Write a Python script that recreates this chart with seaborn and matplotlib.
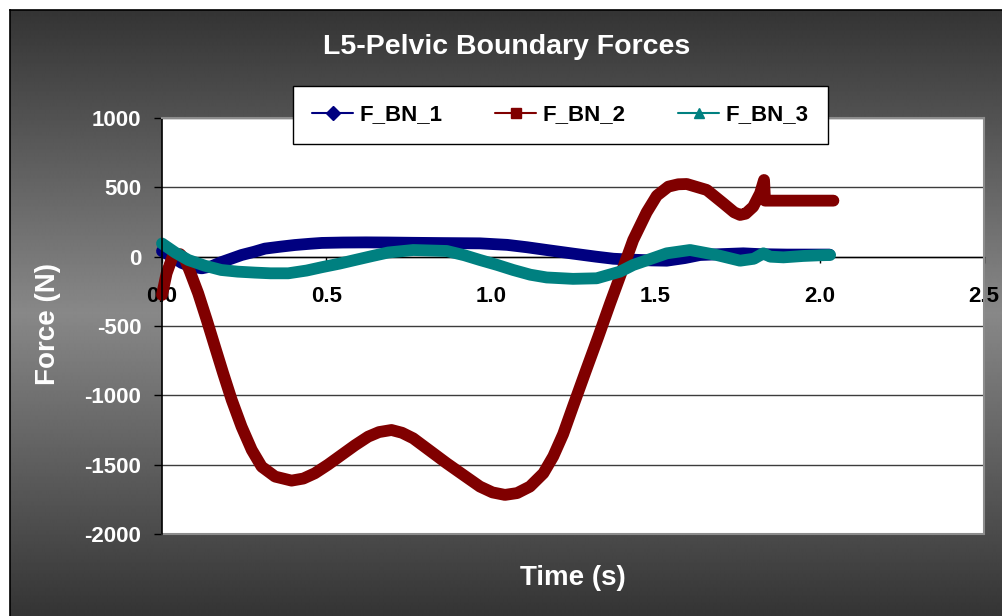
import numpy as np
import pandas as pd
import seaborn as sns
import matplotlib
matplotlib.use("Agg")
import matplotlib.pyplot as plt
from matplotlib.lines import Line2D

# ---------------- data ----------------
t_bn1 = [0.0, 0.03, 0.06, 0.09, 0.121, 0.15, 0.18, 0.21, 0.242, 0.28, 0.313, 0.36,
         0.404, 0.45, 0.486, 0.55, 0.62, 0.688, 0.76, 0.85, 0.967, 1.05, 1.11, 1.17,
         1.25, 1.32, 1.373, 1.433, 1.49, 1.535, 1.59, 1.636, 1.7, 1.768, 1.82, 1.9,
         1.96, 2.03]
f_bn1 = [40, 0, -45, -72, -84, -70, -40, -15, 12, 35, 58, 72,
         84, 93, 99, 102, 103, 102, 100, 98, 96, 85, 68, 48,
         22, 0, -15, -22, -27, -29, -10, 12, 18, 24, 18, 15,
         15, 15]

t_bn2 = [0.0, 0.014, 0.034, 0.055, 0.07, 0.085, 0.11, 0.136, 0.161, 0.186, 0.212,
         0.242, 0.273, 0.303, 0.344, 0.394, 0.43, 0.465, 0.505, 0.546, 0.587, 0.627,
         0.66, 0.698, 0.73, 0.764, 0.815, 0.866, 0.92, 0.967, 1.005, 1.043, 1.08,
         1.119, 1.16, 1.19, 1.22, 1.25, 1.29, 1.327, 1.363, 1.398, 1.433, 1.474,
         1.505, 1.54, 1.57, 1.596, 1.657, 1.707, 1.74, 1.758, 1.775, 1.798, 1.819,
         1.831, 1.834, 2.042]
f_bn2 = [-276, -120, 12, 18, -20, -108, -264, -456, -649, -841, -1033,
         -1226, -1394, -1514, -1586, -1615, -1600, -1562, -1500, -1430, -1360, -1298,
         -1265, -1250, -1270, -1310, -1400, -1490, -1580, -1658, -1700, -1718, -1705,
         -1658, -1562, -1440, -1280, -1080, -817, -577, -336, -110, 120, 320,
         440, 505, 522, 524, 481, 385, 320, 301, 310, 360, 457,
         553, 404, 404]

t_bn3 = [0.0, 0.04, 0.08, 0.13, 0.18, 0.23, 0.283, 0.33, 0.384, 0.44, 0.486, 0.54,
         0.587, 0.64, 0.688, 0.764, 0.866, 0.92, 0.967, 1.02, 1.068, 1.12, 1.17,
         1.25, 1.322, 1.393, 1.433, 1.494, 1.535, 1.606, 1.687, 1.758, 1.8, 1.829,
         1.85, 1.89, 1.95, 2.0, 2.032]
f_bn3 = [95, 30, -24, -65, -96, -108, -115, -120, -120, -100, -76, -50,
         -24, 5, 30, 48, 41, 10, -24, -60, -96, -130, -150,
         -160, -156, -108, -60, -10, 24, 48, 12, -29, -15, 24,
         0, -5, 5, 10, 12]

series_names = ["F_BN_1", "F_BN_2", "F_BN_3"]
series_colors = ["#000080", "#800000", "#008080"]
series_markers = ["D", "s", "^"]

x_ticks = [0.0, 0.5, 1.0, 1.5, 2.0, 2.5]
y_ticks = [-2000, -1500, -1000, -500, 0, 500, 1000]

title_text = "L5-Pelvic Boundary Forces"
x_label = "Time (s)"
y_label = "Force (N)"

df = pd.concat([
    pd.DataFrame({"Time": t_bn1, "Force": f_bn1, "Series": series_names[0]}),
    pd.DataFrame({"Time": t_bn2, "Force": f_bn2, "Series": series_names[1]}),
    pd.DataFrame({"Time": t_bn3, "Force": f_bn3, "Series": series_names[2]}),
], ignore_index=True)

# ---------------- style ----------------
sns.set_theme(style="white")
plt.rcParams["font.family"] = ["Liberation Sans", "DejaVu Sans"]
plt.rcParams["font.weight"] = "bold"

W, H = 1003, 616
fig = plt.figure(figsize=(W / 100, H / 100), dpi=100, facecolor="white")

# gradient background panel
bg = fig.add_axes([10 / W, 0, (W - 10) / W, (H - 10) / H])
bg.set_zorder(0)
ypix = np.arange(10, H)
mid = (10 + H) / 2
half = (H - 10) / 2
vals = 52 + 84 * (1 - np.abs(ypix - mid) / half)
grad = np.repeat(vals[:, None], 4, axis=1)
bg.imshow(grad, cmap="gray", vmin=0, vmax=255, aspect="auto",
          extent=[0, 1, 0, 1], interpolation="bilinear")
bg.set_xlim(0, 1)
bg.set_ylim(0, 1)
bg.set_xticks([])
bg.set_yticks([])
for s in ["right", "bottom"]:
    bg.spines[s].set_visible(False)
for s in ["left", "top"]:
    bg.spines[s].set_color("black")
    bg.spines[s].set_linewidth(1.2)

# main plot area
ax = fig.add_axes([162 / W, 1 - 534 / H, 822 / W, 416 / H])
ax.set_zorder(1)
ax.set_facecolor("white")

sns.lineplot(data=df, x="Time", y="Force", hue="Series", hue_order=series_names,
             palette=dict(zip(series_names, series_colors)), estimator=None,
             sort=False, linewidth=8.5, legend=False, ax=ax)
for ln in ax.lines:
    ln.set_solid_capstyle("round")
    ln.set_solid_joinstyle("round")
    ln.set_clip_on(False)

ax.set_xlim(0, 2.5)
ax.set_ylim(-2000, 1000)
ax.set_xticks(x_ticks)
ax.set_xticklabels([f"{v:.1f}" for v in x_ticks])
ax.set_yticks(y_ticks)
ax.set_yticklabels([str(v) for v in y_ticks])
ax.set_xlabel("")
ax.set_ylabel("")

ax.set_axisbelow(True)
ax.yaxis.grid(True, color="#3c3c3c", linewidth=1)
ax.xaxis.grid(False)

ax.spines["bottom"].set_position(("data", 0))
ax.spines["bottom"].set_color("black")
ax.spines["bottom"].set_linewidth(1)
ax.spines["bottom"].set_zorder(1)
ax.spines["left"].set_color("black")
ax.spines["left"].set_linewidth(1.2)
for s in ["top", "right"]:
    ax.spines[s].set_color("#8c8c8c")
    ax.spines[s].set_linewidth(1.5)
ax.axhline(-2000, color="#8c8c8c", linewidth=1.5, clip_on=False, zorder=0.6)

ax.tick_params(axis="y", which="both", left=True, direction="out", length=5.8,
               width=1, color="black", labelcolor="white", labelsize=16, pad=9)
ax.tick_params(axis="x", which="both", bottom=True, direction="out", length=4.3,
               width=1, color="black", labelcolor="black", labelsize=16, pad=17)
for lab in ax.get_xticklabels() + ax.get_yticklabels():
    lab.set_fontweight("bold")

# texts
fig.text(507 / W, 1 - 47 / H, title_text, color="white", fontsize=20.5,
         fontweight="bold", ha="center", va="center")
fig.text(573 / W, 1 - 578 / H, x_label, color="white", fontsize=20,
         fontweight="bold", ha="center", va="center")
fig.text(48 / W, 1 - 324 / H, y_label, color="white", fontsize=20,
         fontweight="bold", ha="center", va="center", rotation=90)

# legend
handles = [Line2D([], [], color=c, marker=m, markersize=7.5, linewidth=1.5,
                  markeredgecolor=c, markerfacecolor=c)
           for c, m in zip(series_colors, series_markers)]
leg = fig.legend(handles, series_names, loc="center",
                 bbox_to_anchor=(560.5 / W, 1 - 115 / H), ncol=3,
                 frameon=True, fancybox=False, shadow=False, framealpha=1,
                 facecolor="white", edgecolor="black", fontsize=16,
                 handlelength=1.85, handletextpad=0.3, columnspacing=2.35,
                 borderpad=0.85, borderaxespad=0)
leg.get_frame().set_linewidth(1)
for txt in leg.get_texts():
    txt.set_fontweight("bold")
    txt.set_color("black")

fig.savefig("out.png", dpi=100, facecolor="white")
